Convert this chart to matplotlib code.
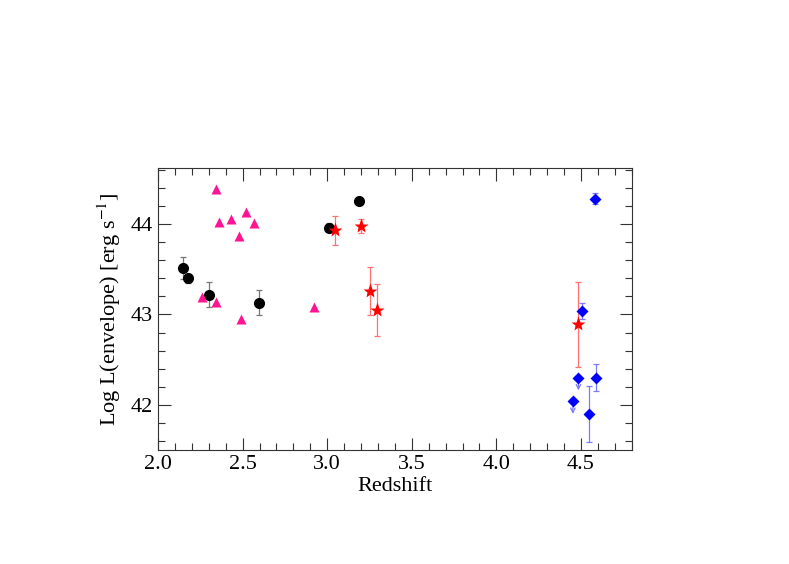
import matplotlib.pyplot as plt
from matplotlib.ticker import MultipleLocator

plt.rcParams['font.family'] = ['Liberation Serif', 'DejaVu Serif']
plt.rcParams['mathtext.fontset'] = 'stix'

# black circles (with errors)
z_circ = [2.15, 2.18, 2.30, 2.594, 3.01, 3.185]
l_circ = [43.51, 43.40, 43.22, 43.13, 43.96, 44.26]
e_circ = [0.12, 0.05, 0.14, 0.14, 0.05, 0.0]

# magenta triangles
z_tri = [2.34, 2.36, 2.43, 2.52, 2.48, 2.57, 2.26, 2.34, 2.49, 2.92]
l_tri = [44.39, 44.02, 44.06, 44.13, 43.87, 44.01, 43.19, 43.14, 42.95, 43.08]

# red stars
z_star = [3.045, 3.20, 3.25, 3.295, 4.481]
l_star = [43.93, 43.98, 43.26, 43.05, 42.89]
e_star = [0.16, 0.08, 0.27, 0.29, 0.47]

# blue diamonds, detections
z_dia = [4.584, 4.503, 4.586, 4.545]
l_dia = [44.28, 43.04, 42.30, 41.90]
e_dia = [0.06, 0.09, 0.15, 0.31]

# blue diamonds, upper limits
z_lim = [4.485, 4.452]
l_lim = [42.30, 42.04]

fig = plt.figure(figsize=(7.89, 5.64), dpi=100)
ax = fig.add_axes([0.2003, 0.2021, 0.6004, 0.5])

ax.errorbar(z_circ, l_circ, yerr=e_circ, fmt='none', ecolor='#777777',
            elinewidth=0.9, capsize=2.5, capthick=0.9, zorder=2)
ax.plot(z_circ, l_circ, 'o', color='black', ms=7, zorder=3)

ax.plot(z_tri, l_tri, '^', color='#ff1493', ms=7, mec='none', zorder=3)

ax.errorbar(z_star, l_star, yerr=e_star, fmt='none', ecolor='#ff7070',
            elinewidth=0.9, capsize=2.5, capthick=0.9, zorder=2)
ax.plot(z_star, l_star, '*', color='red', ms=11, mec='none', zorder=3)

ax.errorbar(z_dia, l_dia, yerr=e_dia, fmt='none', ecolor='#7a7aff',
            elinewidth=0.9, capsize=2.5, capthick=0.9, zorder=2)
for x, y in zip(z_lim, l_lim):
    ax.annotate('', xy=(x, y - 0.14), xytext=(x, y),
                arrowprops=dict(arrowstyle='->', color='#7a7aff', lw=0.9,
                                shrinkA=0, shrinkB=0, mutation_scale=8),
                zorder=2)
ax.plot(z_dia + z_lim, l_dia + l_lim, 'D', color='blue', ms=6, mec='none', zorder=3)

ax.set_xlim(2.0, 4.8)
ax.set_ylim(41.5, 44.62)
ax.xaxis.set_major_locator(MultipleLocator(0.5))
ax.xaxis.set_minor_locator(MultipleLocator(0.1))
ax.yaxis.set_major_locator(MultipleLocator(1))
ax.yaxis.set_minor_locator(MultipleLocator(0.2))
ax.xaxis.set_major_formatter(plt.FormatStrFormatter('%.1f'))
ax.tick_params(which='both', direction='in', top=True, right=True,
               color='#333333', labelsize=16)
ax.tick_params(which='major', length=9, width=0.8)
ax.tick_params(which='minor', length=5, width=0.8)
for s in ax.spines.values():
    s.set_linewidth(0.8)
    s.set_color('#333333')

ax.set_xlabel('Redshift', fontsize=16, labelpad=2)
ax.set_ylabel(r'Log L(envelope) [erg s$^{-1}$]', fontsize=16, labelpad=6)

fig.savefig('out.png', dpi=100)
